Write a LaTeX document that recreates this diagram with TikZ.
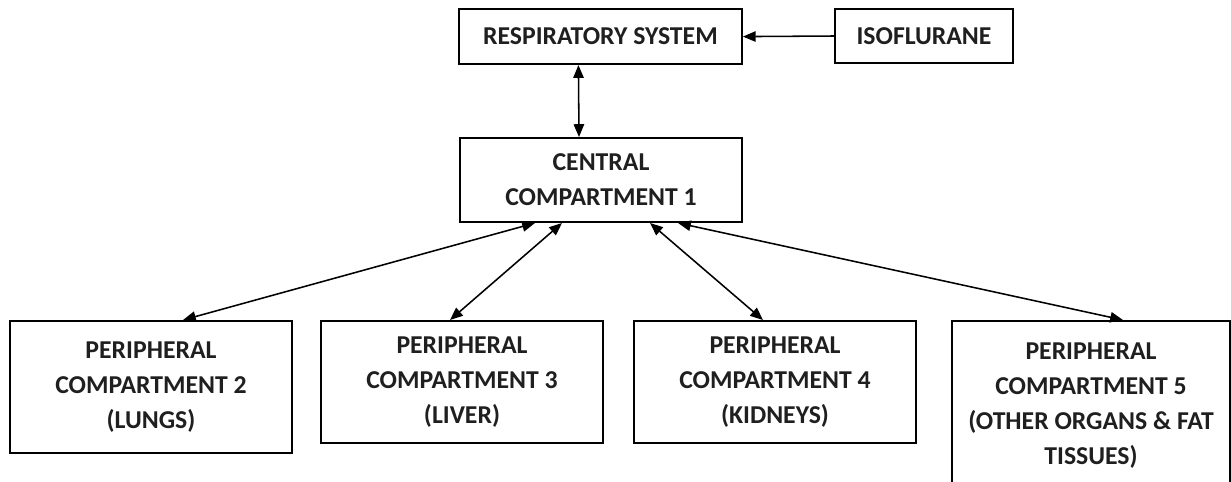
\documentclass[tikz,border=0pt]{standalone}
\usepackage{fontspec}
\setmainfont{Carlito}
\usetikzlibrary{arrows.meta}
\tikzset{
  compbox/.style={draw, line width=1.4pt, align=center, inner sep=0pt,
    text=black!88, font=\bfseries\fontsize{18.3}{24.9}\selectfont},
  flow/.style={line width=1.1pt, {Triangle[length=0.32cm,width=0.26cm]}-{Triangle[length=0.32cm,width=0.26cm]}},
  feed/.style={line width=1.1pt, -{Triangle[length=0.32cm,width=0.26cm]}}
}
\begin{document}
\begin{tikzpicture}
                    \useasboundingbox (0,0) rectangle (30.775,12.025);
                    \clip (0,0) rectangle (30.775,12.025);
                    \fill[white] (0,0) rectangle (30.775,12.025);

                    % Marking box respiratory system
                    \node [compbox, minimum width=7.075cm, minimum height=1.375cm] (resp) at (15.01,11.11) {RESPIRATORY SYSTEM};%

                    % Marking box isoflurane
                    \node [compbox, minimum width=4.45cm, minimum height=1.35cm] (iso) at (23.1,11.125) {ISOFLURANE};%

                    % Marking box central compartment
                    \node [compbox, minimum width=7.05cm, minimum height=2.1cm] (central) at (15.025,7.525) {CENTRAL\\COMPARTMENT 1};%

                    % Marking peripheral boxes
                    \node [compbox, minimum width=7.05cm, minimum height=3.3cm] (lungs) at (3.775,2.35) {PERIPHERAL\\COMPARTMENT 2\\(LUNGS)};%
                    \node [compbox, minimum width=7.05cm, minimum height=3.05cm] (liver) at (11.55,2.475) {PERIPHERAL\\COMPARTMENT 3\\(LIVER)};%
                    \node [compbox, minimum width=7.05cm, minimum height=3.05cm] (kidneys) at (19.375,2.475) {PERIPHERAL\\COMPARTMENT 4\\(KIDNEYS)};%
                    \node [compbox, minimum width=6.95cm, minimum height=4.225cm] (organs) at (27.275,1.8875) {PERIPHERAL\\COMPARTMENT 5\\(OTHER ORGANS \& FAT\\TISSUES)};%

                    % Drawing arrow isoflurane to respiratory system
                    \draw [feed] (iso.west) -- (resp.east);%

                    % Drawing arrow respiratory system and central
                    \draw [flow] ([xshift=-0.55cm]resp.south) -- ([xshift=-0.55cm]central.north);%

                    % Drawing arrows central and peripheral
                    \draw [flow] ([xshift=-1.65cm]central.south) -- ([xshift=0.8cm]lungs.north);%
                    \draw [flow] ([xshift=-0.975cm]central.south) -- ([xshift=-0.3cm]liver.north);%
                    \draw [flow] ([xshift=1.225cm]central.south) -- ([xshift=-0.3cm]kidneys.north);%
                    \draw [flow] ([xshift=1.925cm]central.south) -- ([xshift=0.8cm]organs.north);%
\end{tikzpicture}
\end{document}
